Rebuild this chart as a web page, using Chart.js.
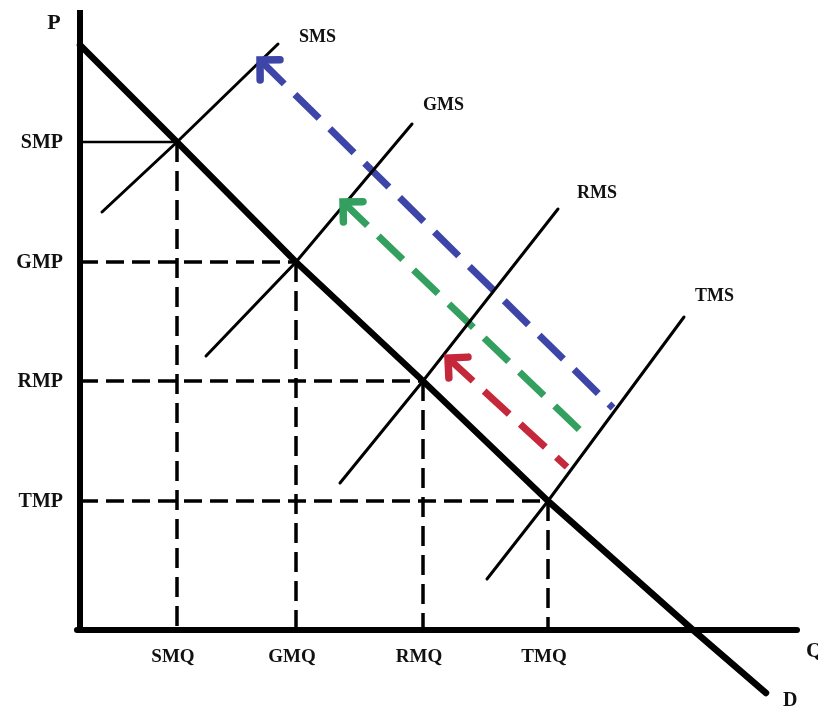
<!DOCTYPE html>
<html>
<head>
<meta charset="utf-8">
<script src="https://cdn.jsdelivr.net/npm/chart.js@4/dist/chart.umd.min.js"></script>
<style>
  html, body { margin: 0; padding: 0; background: #ffffff; }
  canvas { display: block; }
</style>
</head>
<body>
<canvas id="c" width="818" height="713"></canvas>
<script>
// ---- data (quantity on x, price on y) ----
const quantityLabels = ['SMQ', 'GMQ', 'RMQ', 'TMQ'];
const quantityValues = [97, 216, 343, 468];
const priceLabels = ['SMP', 'GMP', 'RMP', 'TMP'];
const priceValues = [488, 368, 249, 129];

const demandQ = [0, 97, 216, 343, 468, 613, 686];
const demandP = [585, 488, 368, 249, 129, 0, -63];

const supplyLabels = ['SMS', 'GMS', 'RMS', 'TMS'];
const supplyLowQ = [22, 126, 260, 407];
const supplyLowP = [418, 274, 147, 51];
const supplyHighQ = [198, 332, 478, 604];
const supplyHighP = [586, 506, 421, 313];

const arrowTipQ = [180, 263, 368];
const arrowTipP = [570, 428, 272];
const arrowTailQ = [533, 510, 487];
const arrowTailP = [222, 190, 163];

const axisQ = [-3, 717];
const axisP = [-2, 620];

// ---- styles ----
const FONT = "'Liberation Serif', 'Times New Roman', 'DejaVu Serif', serif";
const arrowColors = ['#3d46a8', '#33a060', '#c4283a'];
const supplyLabelOffsets = [[21, -7], [11, -19], [19, -16], [11, -21]];

const pts = (qs, ps) => qs.map((q, i) => ({ x: q, y: ps[i] }));
const datasets = [];

// axes
datasets.push({ data: [{ x: 0, y: axisP[0] }, { x: 0, y: axisP[1] }], borderColor: '#000', borderWidth: 6, borderCapStyle: 'butt' });
datasets.push({ data: [{ x: axisQ[0], y: 0 }, { x: axisQ[1], y: 0 }], borderColor: '#000', borderWidth: 6, borderCapStyle: 'round' });

// guide lines
priceValues.forEach((p, i) => {
  const q = quantityValues[i];
  datasets.push({
    data: [{ x: 0, y: p }, { x: q, y: p }],
    borderColor: '#000', borderWidth: i === 0 ? 2.5 : 3.5,
    borderDash: i === 0 ? [] : [18, 8], borderCapStyle: 'butt'
  });
  datasets.push({
    data: [{ x: q, y: p }, { x: q, y: 0 }],
    borderColor: '#000', borderWidth: 3.5, borderDash: [20, 9], borderCapStyle: 'butt'
  });
});

// supply curves
supplyLabels.forEach((lab, i) => {
  datasets.push({
    label: lab,
    data: [{ x: supplyLowQ[i], y: supplyLowP[i] }, { x: quantityValues[i], y: priceValues[i] }, { x: supplyHighQ[i], y: supplyHighP[i] }],
    borderColor: '#000', borderWidth: 3, borderCapStyle: 'round'
  });
});

// demand
datasets.push({ label: 'D', data: pts(demandQ, demandP), borderColor: '#000', borderWidth: 6.5, borderCapStyle: 'round', borderJoinStyle: 'round' });

// shift arrows (tip first, then tail)
arrowTipQ.forEach((q, i) => {
  datasets.push({
    data: [{ x: q, y: arrowTipP[i] }, { x: arrowTailQ[i], y: arrowTailP[i] }],
    borderColor: arrowColors[i], borderWidth: 7, borderDash: [34, 15], borderCapStyle: 'butt', arrow: true
  });
});

datasets.forEach(d => { d.showLine = true; d.pointRadius = 0; d.pointHoverRadius = 0; d.fill = false; d.tension = 0; });

const textPlugin = {
  id: 'texts',
  afterDatasetsDraw(chart) {
    const ctx = chart.ctx;
    const xs = chart.scales.x, ys = chart.scales.y;
    // arrowheads
    chart.data.datasets.forEach((ds) => {
      if (!ds.arrow) return;
      const tip = { x: xs.getPixelForValue(ds.data[0].x), y: ys.getPixelForValue(ds.data[0].y) };
      const tail = { x: xs.getPixelForValue(ds.data[1].x), y: ys.getPixelForValue(ds.data[1].y) };
      const ang = Math.atan2(tail.y - tip.y, tail.x - tip.x);
      const L = 20, h = 45 * Math.PI / 180;
      ctx.save();
      ctx.strokeStyle = ds.borderColor; ctx.lineWidth = 7.5; ctx.lineCap = 'round'; ctx.lineJoin = 'miter';
      ctx.beginPath();
      ctx.moveTo(tip.x + L * Math.cos(ang + h), tip.y + L * Math.sin(ang + h));
      ctx.lineTo(tip.x, tip.y);
      ctx.lineTo(tip.x + L * Math.cos(ang - h), tip.y + L * Math.sin(ang - h));
      ctx.stroke();
      ctx.restore();
    });

    ctx.save();
    ctx.fillStyle = '#111';
    // price ticks
    ctx.font = 'bold 20px ' + FONT;
    ctx.textAlign = 'right'; ctx.textBaseline = 'middle';
    priceLabels.forEach((lab, i) => ctx.fillText(lab, xs.getPixelForValue(0) - 17, ys.getPixelForValue(priceValues[i]) + 1));
    // quantity ticks
    ctx.font = 'bold 19px ' + FONT;
    ctx.textAlign = 'center'; ctx.textBaseline = 'middle';
    quantityLabels.forEach((lab, i) => ctx.fillText(lab, xs.getPixelForValue(quantityValues[i]) - 4, ys.getPixelForValue(0) + 27));
    // supply labels
    ctx.font = 'bold 18px ' + FONT;
    ctx.textAlign = 'left'; ctx.textBaseline = 'middle';
    supplyLabels.forEach((lab, i) => {
      const off = supplyLabelOffsets[i];
      ctx.fillText(lab, xs.getPixelForValue(supplyHighQ[i]) + off[0], ys.getPixelForValue(supplyHighP[i]) + off[1]);
    });
    // axis names
    ctx.font = 'bold 22px ' + FONT;
    ctx.textAlign = 'center';
    ctx.fillText('P', xs.getPixelForValue(0) - 26, ys.getPixelForValue(axisP[1]) + 13);
    ctx.textAlign = 'left';
    ctx.fillText('Q', xs.getPixelForValue(axisQ[1]) + 9, ys.getPixelForValue(0) + 21);
    ctx.font = 'bold 20px ' + FONT;
    const last = demandQ.length - 1;
    ctx.fillText('D', xs.getPixelForValue(demandQ[last]) + 17, ys.getPixelForValue(demandP[last]) + 8);
    ctx.restore();
  }
};

const bgPlugin = {
  id: 'bg',
  beforeDraw(chart) {
    const ctx = chart.ctx;
    ctx.save(); ctx.fillStyle = '#fff'; ctx.fillRect(0, 0, chart.width, chart.height); ctx.restore();
  }
};

new Chart(document.getElementById('c'), {
  type: 'scatter',
  data: { datasets },
  options: {
    responsive: false,
    devicePixelRatio: 1,
    animation: false,
    layout: { padding: 0 },
    plugins: { legend: { display: false }, tooltip: { enabled: false } },
    events: [],
    scales: {
      x: { type: 'linear', display: false, min: -80, max: 738 },
      y: { type: 'linear', display: false, min: -83, max: 630 }
    }
  },
  plugins: [bgPlugin, textPlugin]
});
</script>
</body>
</html>
